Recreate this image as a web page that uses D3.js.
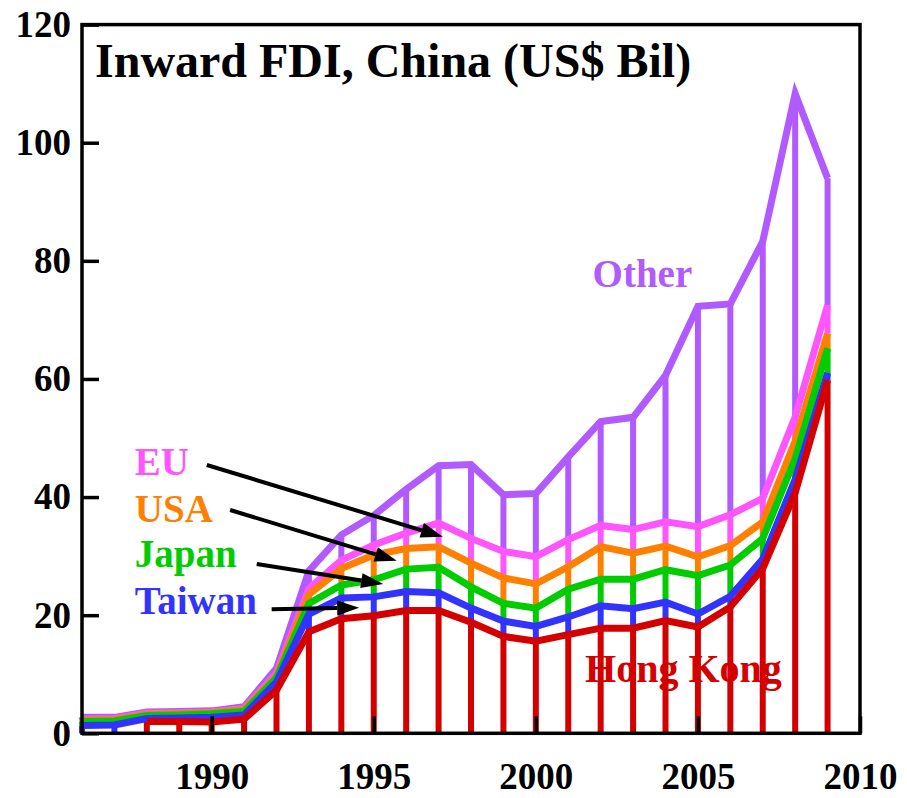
<!DOCTYPE html>
<html>
<head>
<meta charset="utf-8">
<script src="https://cdn.jsdelivr.net/npm/d3@7"></script>
<style>
  html, body { margin: 0; padding: 0; background: #fff; }
  svg { display: block; }
  text { font-family: "Liberation Serif", "Times New Roman", serif; font-weight: bold; }
</style>
</head>
<body>
<svg id="chart" width="907" height="798"></svg>
<script>
// ---- data (US$ billions, contribution of each source) ----
const years = d3.range(1986, 2010);
const hongKong = [null, null, 2.0, 2.0, 1.9, 2.4, 7.3, 17.2, 19.4, 19.9, 20.8, 20.8, 18.8, 16.4, 15.6, 16.7, 17.8, 17.8, 19.1, 18.0, 21.4, 27.9, 40.7, 59.8];
const taiwan   = [1.3, 1.4, 0.5, 0.6, 0.8, 0.7, 1.4, 3.0, 3.5, 3.2, 3.2, 3.0, 2.4, 2.6, 2.5, 3.0, 3.8, 3.3, 3.1, 2.2, 1.8, 1.6, 2.3, 1.2];
const japan    = [0.7, 0.7, 0.5, 0.5, 0.6, 0.6, 0.7, 1.8, 2.2, 2.9, 3.8, 4.3, 3.6, 3.0, 3.1, 4.7, 4.5, 5.0, 5.5, 6.5, 5.3, 3.5, 3.5, 4.2];
const usa      = [0.2, 0.2, 0.2, 0.2, 0.2, 0.3, 0.3, 1.5, 2.8, 4.2, 3.5, 3.5, 4.0, 4.3, 4.1, 3.8, 5.5, 4.4, 4.0, 3.2, 3.3, 2.8, 3.0, 2.5];
const eu       = [0.2, 0.2, 0.2, 0.2, 0.1, 0.2, 0.5, 1.0, 1.4, 1.7, 2.6, 4.0, 4.2, 4.5, 4.6, 4.6, 3.6, 4.0, 4.1, 5.1, 5.2, 4.0, 4.1, 4.8];
const other    = [0.3, 0.2, 0.2, 0.2, 0.2, 0.3, 0.8, 3.0, 4.3, 5.0, 7.4, 9.7, 12.5, 9.6, 10.7, 14.0, 17.6, 19.0, 24.8, 37.3, 35.7, 43.5, 54.7, 21.5];

const seriesNames  = ["Hong Kong", "Taiwan", "Japan", "USA", "EU", "Other"];
const seriesValues = [hongKong, taiwan, japan, usa, eu, other];
const seriesColors = ["#d40000", "#3333ff", "#00cc00", "#ff8000", "#ff55ff", "#b05aff"];

const yTicks = [0, 20, 40, 60, 80, 100, 120];
const xTicks = [1990, 1995, 2000, 2005, 2010];
const title = "Inward FDI, China (US$ Bil)";

// label anchors in data space: [year, value]
const labelPos = {
  "Other": [2001.75, 75.6],
  "EU": [1987.63, 43.7],
  "USA": [1987.63, 35.8],
  "Japan": [1987.63, 28.2],
  "Taiwan": [1987.63, 20.15],
  "Hong Kong": [2001.52, 8.7]
};
// arrows: [fromYear, fromValue, toYear, toValue]
const arrows = [
  [1989.85, 45.43, 1997.13, 33.29],
  [1990.57, 37.81, 1995.71, 29.22],
  [1991.39, 28.67, 1995.29, 25.28],
  [1991.85, 21.0, 1994.55, 21.27]
];

// ---- layout ----
const svg = d3.select("#chart");
const x = d3.scaleLinear().domain([1986, 2010]).range([82, 860]);
const y = d3.scaleLinear().domain([0, 120]).range([733.3, 24.6]);

const table = years.map((yr, i) => {
  const row = { year: yr };
  seriesNames.forEach((n, k) => { row[n] = seriesValues[k][i]; });
  return row;
});
const stack = d3.stack().keys(seriesNames).value((d, key) => d[key] == null ? 0 : d[key]);
const stacked = stack(table);

const g = svg.append("g");

// vertical segments
stacked.forEach((layer, k) => {
  g.append("g").selectAll("line")
    .data(layer.filter(d => d.data[seriesNames[k]] != null))
    .join("line")
    .attr("x1", d => x(d.data.year)).attr("x2", d => x(d.data.year))
    .attr("y1", d => y(d[0])).attr("y2", d => y(d[1]))
    .attr("stroke", seriesColors[k])
    .attr("stroke-width", 6);
});

// lines (top series first, Hong Kong last)
for (let k = stacked.length - 1; k >= 0; k--) {
  const layer = stacked[k];
  const lineGen = d3.line()
    .defined(d => d.data[seriesNames[k]] != null)
    .x(d => x(d.data.year)).y(d => y(d[1]));
  g.append("path")
    .attr("d", lineGen(layer))
    .attr("fill", "none")
    .attr("stroke", seriesColors[k])
    .attr("stroke-width", 7)
    .attr("stroke-linejoin", "miter")
    .attr("stroke-miterlimit", 10);
}

// axes
const xAxis = d3.axisBottom(x).tickValues(xTicks).tickFormat(d3.format("d"))
  .tickSize(-17).tickSizeOuter(0).tickPadding(29);
const yAxis = d3.axisLeft(y).tickValues(yTicks)
  .tickSize(-17).tickSizeOuter(0).tickPadding(11);

const xg = svg.append("g").attr("transform", `translate(0,${y(0)})`).call(xAxis);
const yg = svg.append("g").attr("transform", `translate(${x(1986)},0)`).call(yAxis);
[xg, yg].forEach(a => {
  a.select(".domain").remove();
  a.selectAll(".tick line").attr("stroke", "#000").attr("stroke-width", 3.5);
  a.selectAll(".tick text").attr("fill", "#000")
    .style("font-family", '"Liberation Serif", serif')
    .style("font-weight", "bold").style("font-size", "37px");
});

// frame
svg.append("rect")
  .attr("x", x(1986)).attr("y", y(120))
  .attr("width", x(2010) - x(1986)).attr("height", y(0) - y(120))
  .attr("fill", "none").attr("stroke", "#000").attr("stroke-width", 3.5);

// title
svg.append("text").attr("x", 95).attr("y", 77)
  .style("font-size", "48px").attr("fill", "#000").text(title);

// series labels
seriesNames.forEach((n, k) => {
  const p = labelPos[n];
  svg.append("text").attr("x", x(p[0])).attr("y", y(p[1]))
    .style("font-size", n === "Hong Kong" ? "40px" : "39px")
    .attr("fill", seriesColors[k]).text(n);
});

// arrows
arrows.forEach(a => {
  const x1 = x(a[0]), y1 = y(a[1]), x2 = x(a[2]), y2 = y(a[3]);
  const ang = Math.atan2(y2 - y1, x2 - x1);
  const L = 22, W = 7.5;
  const bx = x2 - L * Math.cos(ang), by = y2 - L * Math.sin(ang);
  svg.append("line").attr("x1", x1).attr("y1", y1).attr("x2", bx).attr("y2", by)
    .attr("stroke", "#000").attr("stroke-width", 4);
  const px = -Math.sin(ang) * W, py = Math.cos(ang) * W;
  svg.append("path")
    .attr("d", `M${x2},${y2}L${bx + px},${by + py}L${bx - px},${by - py}Z`)
    .attr("fill", "#000");
});
</script>
</body>
</html>
